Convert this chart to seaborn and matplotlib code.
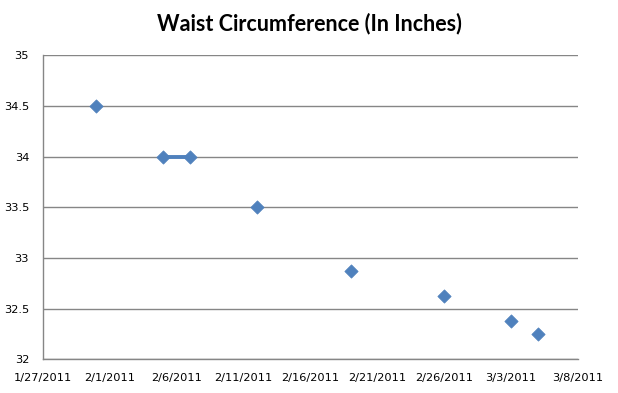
import matplotlib
matplotlib.use("Agg")
import matplotlib.pyplot as plt
import seaborn as sns
import pandas as pd

dates = ["2011-01-31", "2011-02-05", "2011-02-07", "2011-02-12", "2011-02-19",
         "2011-02-26", "2011-03-03", "2011-03-05"]
waist = [34.5, 34.0, 34.0, 33.5, 32.875, 32.625, 32.375, 32.25]
connected = [1, 2]  # the two points joined by a line in the original
title = "Waist Circumference (In Inches)"
x_min, x_max = "2011-01-27", "2011-03-08"
y_ticks = [32, 32.5, 33, 33.5, 34, 34.5, 35]
y_labels = ["32", "32.5", "33", "33.5", "34", "34.5", "35"]

df = pd.DataFrame({"date": pd.to_datetime(dates), "waist": waist})

sns.set_theme(style="white")
plt.rcParams['font.family'] = ['DejaVu Sans']

fig = plt.figure(figsize=(6.18, 3.93), dpi=100)
ax = fig.add_axes([43/618, 1-359.3/393, (578-43)/618, (359.3-55.3)/393])

blue = "#4F81BD"
grid = "#868686"

sub = df.iloc[connected]
sns.lineplot(data=sub, x="date", y="waist", ax=ax, color=blue, linewidth=2.8,
             zorder=3, estimator=None, sort=False)
sns.scatterplot(data=df, x="date", y="waist", ax=ax, marker="D", s=46,
                color=blue, edgecolor=blue, linewidth=0.5, zorder=4)

ax.set_xlim(pd.Timestamp(x_min), pd.Timestamp(x_max))
ax.set_ylim(32, 35)
ax.set_yticks(y_ticks)
ax.set_yticklabels(y_labels)
ticks = pd.date_range(x_min, x_max, freq="5D")
ax.set_xticks(ticks)
ax.set_xticklabels([f"{d.month}/{d.day}/{d.year}" for d in ticks])

ax.set_xlabel("")
ax.set_ylabel("")
ax.yaxis.grid(True, color=grid, linewidth=1.0)
ax.set_axisbelow(True)
for s in ["top", "right"]:
    ax.spines[s].set_visible(False)
for s in ["left", "bottom"]:
    ax.spines[s].set_color(grid)
    ax.spines[s].set_linewidth(1.0)
ax.tick_params(axis="both", which="major", direction="out", length=5,
               width=1, color=grid, labelsize=8.2, labelcolor="black", pad=5)
ax.tick_params(axis="y", length=4, pad=6)

fig.text(0.5, 1-24/393, title, ha="center", va="center", color="black",
         fontsize=15.5, fontweight="bold", family=["Lato", "DejaVu Sans"])

fig.savefig("out.png", dpi=100)
